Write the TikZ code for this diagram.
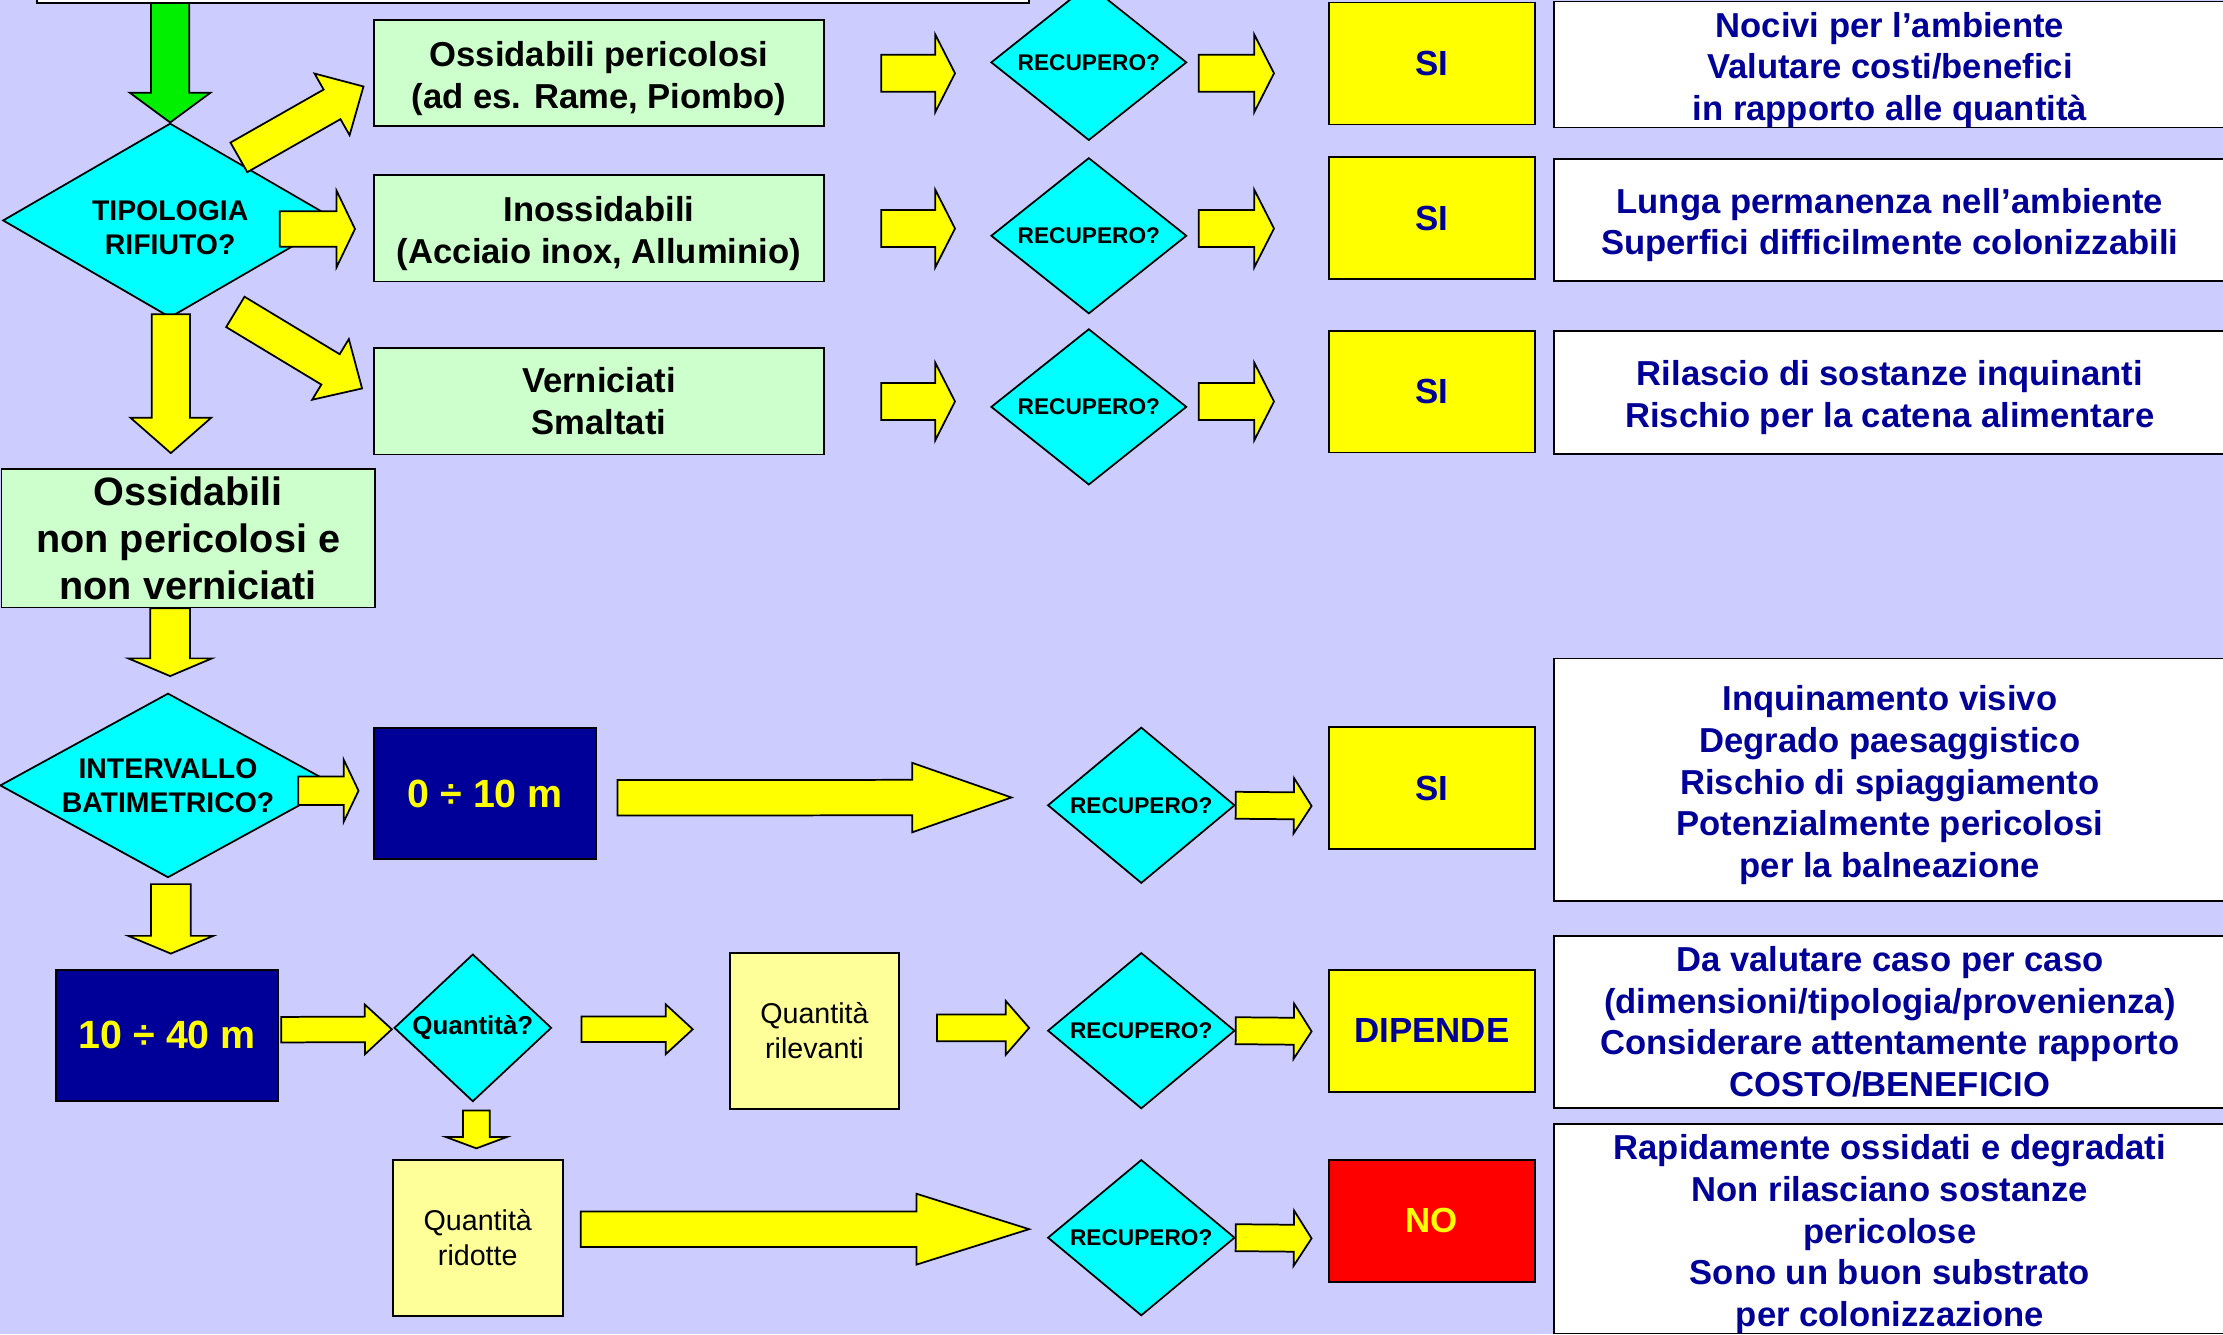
\documentclass[tikz,border=0pt]{standalone}
\usepackage{fontspec}
\setmainfont{Liberation Sans}
\usepackage{tikz}
\usetikzlibrary{shapes.geometric, calc}

\definecolor{bgc}{RGB}{204,204,255}
\definecolor{boxg}{RGB}{204,255,204}
\definecolor{cya}{RGB}{0,255,255}
\definecolor{yel}{RGB}{255,255,0}
\definecolor{paley}{RGB}{255,255,153}
\definecolor{navy}{RGB}{0,0,153}
\definecolor{grn}{RGB}{0,240,0}

\tikzset{
  every node/.style={line width=0.7pt},
  gbox/.style={draw,fill=boxg,align=center,inner sep=0,minimum width=63.4mm,minimum height=15mm,font=\fontsize{13.9}{17}\selectfont\bfseries},
  rdia/.style={diamond,draw,fill=cya,inner sep=0,aspect=1.25,minimum width=27.6mm,minimum height=22mm,font=\fontsize{9.1}{11}\selectfont\bfseries},
  bigdia/.style={diamond,draw,fill=cya,inner sep=0,align=center,font=\fontsize{11.4}{13.7}\selectfont\bfseries},
  ansbox/.style={draw,fill=yel,text=navy,inner sep=0,minimum width=29.1mm,minimum height=17.2mm,font=\fontsize{14}{17}\selectfont\bfseries},
  notebox/.style={draw,fill=white,text=navy,align=center,inner sep=0,minimum width=94.8mm,font=\fontsize{13.9}{16.7}\selectfont\bfseries},
  depbox/.style={draw,fill=navy,text=yel,inner sep=0,minimum width=31.3mm,minimum height=18.5mm,font=\fontsize{15.8}{19}\selectfont\bfseries},
  qbox/.style={draw,fill=paley,align=center,inner sep=0,minimum width=24mm,minimum height=22mm,font=\fontsize{11.5}{14.2}\selectfont},
  blk/.style={draw,line width=0.7pt,fill=yel,line join=miter},
}

% pushes the first line of a text a little lower
\newcommand{\upstrut}[1][1.03em]{\rule{0pt}{#1}}

% block arrow: [opts]{from}{to}{shaft half width}{head half width}{head length}
\newcommand{\blkarrow}[6][]{%
  \coordinate (ba) at (#2);
  \coordinate (bb) at (#3);
  \coordinate (bh) at ($(bb)!#6!(ba)$);
  \draw[blk,#1] ($(ba)!#4!-90:(bb)$) -- ($(bh)!#4!90:(ba)$) -- ($(bh)!#5!90:(ba)$) -- (bb)
    -- ($(bh)!#5!-90:(ba)$) -- ($(bh)!#4!-90:(ba)$) -- ($(ba)!#4!90:(bb)$) -- cycle;
}

\begin{document}
\begin{tikzpicture}[x=0.2mm,y=-0.2mm]
\useasboundingbox (0,0) rectangle (1568,941);
\fill[bgc] (0,0) rectangle (1568,941);
\clip (0,0) rectangle (1568,941);

\node[bigdia,aspect=1.72,minimum width=47.2mm,minimum height=27.4mm] (tipo) at (120,155.5) {\upstrut[1.24em]TIPOLOGIA\\RIFIUTO?};
\coordinate (topc) at (376,-20);
\blkarrow[fill=grn]{tipo.north |- topc}{tipo.north}{2.7mm}{5.7mm}{4.2mm}
\node[draw,fill=white,inner sep=0,minimum width=140mm,minimum height=8.8mm] (top) at (topc) {};

% tipologia rows
\node[gbox] (ox1) at (422.5,51.5) {\upstrut Ossidabili pericolosi\\(ad es. Rame, Piombo)};
\node[gbox] (ox2) at (422.5,161) {\upstrut Inossidabili\\(Acciaio inox, Alluminio)};
\node[gbox] (ox3) at (422.5,283) {Verniciati\\Smaltati};
\node[rdia] (rec1) at (768,44) {RECUPERO?};
\node[rdia] (rec2) at (768,166.3) {RECUPERO?};
\node[rdia] (rec3) at (768,287) {RECUPERO?};
\node[ansbox] (si1) at (1010,44.75) {SI};
\node[ansbox] (si2) at (1010,154) {SI};
\node[ansbox] (si3) at (1010,276.25) {SI};
\node[notebox,minimum height=17.4mm] (n1) at (1333,45.5) {\upstrut Nocivi per l’ambiente\\Valutare costi/benefici\\in rapporto alle quantità};
\node[notebox,minimum height=17.2mm] (n2) at (1333,155) {\upstrut Lunga permanenza nell’ambiente\\Superfici difficilmente colonizzabili};
\node[notebox,minimum height=17.3mm] (n3) at (1333,276.75) {\upstrut Rilascio di sostanze inquinanti\\Rischio per la catena alimentare};

\node[gbox,minimum width=52.7mm,minimum height=19.5mm,font=\fontsize{15.9}{19}\selectfont\bfseries] (ox4) at (132.75,379.75) {Ossidabili\\non pericolosi e\\non verniciati};

% intervallo batimetrico
\node[bigdia,aspect=1.82,minimum width=47.4mm,minimum height=26mm] (ival) at (118.5,554) {INTERVALLO\\BATIMETRICO?};
\node[depbox] (d10) at (342.25,559.75) {0 ÷ 10 m};
\node[depbox] (d40) at (118,730.3) {10 ÷ 40 m};
\node[diamond,draw,fill=cya,inner sep=0,aspect=1.07,minimum width=22.2mm,minimum height=20.8mm,font=\fontsize{10.4}{12}\selectfont\bfseries] (qd) at (333.5,725) {Quantità?};
\node[qbox,minimum width=23.9mm] (ril) at (574.5,727) {Quantità\\rilevanti};
\node[qbox] (rid) at (337,873) {Quantità\\ridotte};
\node[rdia,minimum width=26.4mm,aspect=1.2] (rec4) at (805,568) {RECUPERO?};
\node[rdia,minimum width=26.4mm,aspect=1.2] (rec5) at (805,727) {RECUPERO?};
\node[rdia,minimum width=26.4mm,aspect=1.2] (rec6) at (805,873) {RECUPERO?};
\node[ansbox] (si4) at (1010,556) {SI};
\node[ansbox] (dip) at (1010,727) {DIPENDE};
\node[ansbox,fill=red,text=yel] (no) at (1010,861) {NO};
\node[notebox,minimum height=34.2mm] (n4) at (1333,550) {\upstrut Inquinamento visivo\\Degrado paesaggistico\\Rischio di spiaggiamento\\Potenzialmente pericolosi\\per la balneazione};
\node[notebox,minimum height=24.3mm] (n5) at (1333,720.75) {Da valutare caso per caso\\(dimensioni/tipologia/provenienza)\\Considerare attentamente rapporto\\COSTO/BENEFICIO};
\node[notebox,minimum height=29.1mm] (n6) at (1333,866.75) {\upstrut Rapidamente ossidati e degradati\\Non rilasciano sostanze\\pericolose\\Sono un buon substrato\\per colonizzazione};

% arrows
\blkarrow{$(tipo.center)+(48.5,-44.5)$}{$(ox1.west)+(-7,9.5)$}{2.4mm}{5mm}{5.1mm}
\blkarrow{$(ox2.west)+(-66,0.5)$}{$(ox2.west)+(-13,0.5)$}{2.5mm}{5.4mm}{2.6mm}
\blkarrow{$(tipo.center)+(46,64.5)$}{$(ox3.west)+(-8,-9)$}{2.5mm}{5mm}{5.2mm}
\blkarrow{$(tipo.south)+(0.5,-3)$}{$(tipo.south)+(0.5,95)$}{2.7mm}{5.7mm}{5mm}
\foreach \r in {1,2,3}{
  \blkarrow{$(ox\r.east)+(40,0.2)$}{$(ox\r.east)+(92,0.2)$}{2.6mm}{5.5mm}{2.8mm}
  \blkarrow{$(ox\r.east -| rec\r.east)+(8,0.2)$}{$(ox\r.east -| rec\r.east)+(61,0.2)$}{2.6mm}{5.5mm}{2.8mm}
}
\blkarrow{tipo.south |- ox4.south}{$(tipo.south |- ival.north)+(0,-11.5)$}{2.8mm}{5.9mm}{2.5mm}
\blkarrow{$(d10.west)+(-53,-2)$}{$(d10.west)+(-10.5,-2)$}{2mm}{4.4mm}{2.1mm}
\blkarrow{$(d10.east)+(14.5,3)$}{$(rec4.west)+(-25,-5.5)$}{2.5mm}{4.9mm}{14mm}
\blkarrow{$(ival.south)+(2,4)$}{$(ival.south)+(2,53)$}{2.8mm}{6mm}{2.5mm}
\blkarrow{$(d40.east)+(1.5,-4)$}{$(qd.west)+(-1,1)$}{1.8mm}{3.5mm}{3.8mm}
\blkarrow{$(qd.east)+(20.5,1)$}{$(ril.west)+(-25.5,-1)$}{1.8mm}{3.5mm}{3.8mm}
\blkarrow{$(ril.east)+(26,-2)$}{$(rec5.west)+(-12.5,-2)$}{1.9mm}{3.8mm}{3.3mm}
\blkarrow{$(qd.south)+(2.5,5.6)$}{$(rid.north)+(-1,-7.4)$}{1.9mm}{4.3mm}{1.6mm}
\blkarrow{$(rid.east)+(12,-6)$}{$(rec6.west)+(-12.5,-6)$}{2.5mm}{5mm}{15.9mm}
\foreach \r in {4,5,6}{
  \blkarrow{rec\r.east}{$(rec\r.east)+(53.5,0.5)$}{1.9mm}{3.9mm}{2.5mm}
}
\end{tikzpicture}
\end{document}
